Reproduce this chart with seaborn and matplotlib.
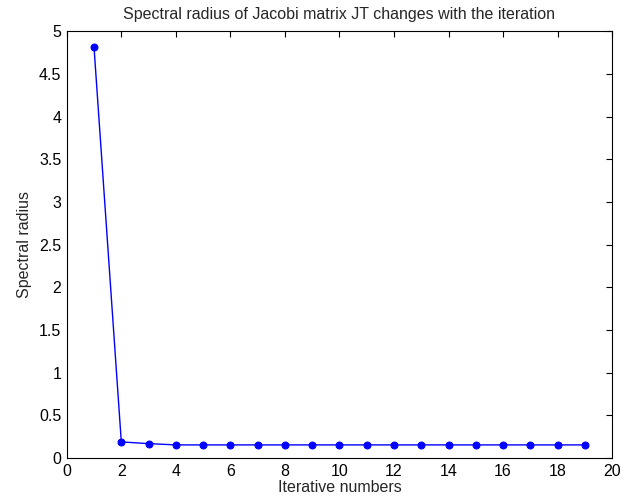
import matplotlib
matplotlib.use('Agg')
import matplotlib.pyplot as plt
import pandas as pd
import seaborn as sns

iterations = list(range(1, 20))
radius = [4.81, 0.19, 0.17, 0.155, 0.155, 0.155, 0.155, 0.155, 0.155, 0.155,
          0.155, 0.155, 0.155, 0.155, 0.155, 0.155, 0.155, 0.155, 0.155]

df = pd.DataFrame({'iter': iterations, 'rho': radius})

sns.set_theme(style='white')
plt.rcParams['font.family'] = ['Liberation Sans', 'DejaVu Sans']
plt.rcParams['font.size'] = 11.5

fig = plt.figure(figsize=(6.24, 5.04), dpi=100)
ax = fig.add_axes([0.107, 0.091, 0.874, 0.847])

sns.lineplot(data=df, x='iter', y='rho', ax=ax, color='blue', linewidth=1,
             marker='o', markersize=5, markeredgecolor='blue', markerfacecolor='blue')

ax.set_xlim(0, 20)
ax.set_ylim(0, 5)
ax.set_xticks(range(0, 21, 2))
ax.set_yticks([0, 0.5, 1, 1.5, 2, 2.5, 3, 3.5, 4, 4.5, 5])
ax.set_yticklabels(['0', '0.5', '1', '1.5', '2', '2.5', '3', '3.5', '4', '4.5', '5'])
ax.tick_params(direction='in', length=4, width=0.8, top=True, right=True,
               labelsize=11.5, colors='black', pad=4)
for s in ax.spines.values():
    s.set_color('black')
    s.set_linewidth(0.8)

ax.set_xlabel('Iterative numbers', fontsize=11.5, labelpad=1)
ax.set_ylabel('Spectral radius', fontsize=11.5, labelpad=5)
ax.set_title('Spectral radius of Jacobi matrix JT changes with the iteration', fontsize=11.5, pad=9)

plt.savefig('out.png', dpi=100)
